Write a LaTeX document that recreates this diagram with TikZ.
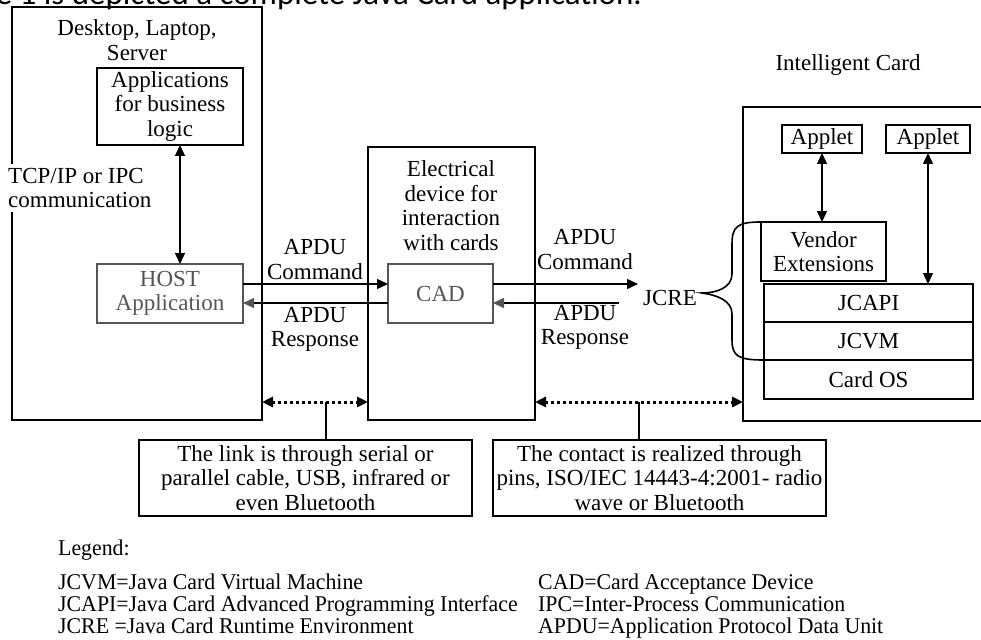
\documentclass[tikz,border=0pt]{standalone}
\usepackage{fontspec}
\setmainfont{Liberation Serif}
\newfontfamily\legendfont{Liberation Serif}[FakeStretch=0.97]
\newfontfamily\pagefont{Carlito}
\usetikzlibrary{arrows.meta,positioning}
\definecolor{hostgray}{HTML}{555555}
\newcommand{\txtsize}{\fontsize{23}{24.5}\selectfont}

\tikzset{
  blk/.style={draw,line width=1.6pt,inner sep=0pt,outer sep=0pt,align=center},
  gblk/.style={blk,draw=hostgray,text=hostgray,line width=1.3pt},
  lbl/.style={align=center,inner sep=0pt},
  legtxt/.style={anchor=base west,inner sep=0pt,font=\legendfont\fontsize{22.5}{22.5}\selectfont},
  tip/.style={line width=1.5pt,-{Triangle[length=11pt,width=10pt]}},
  gtip/.style={line width=1.5pt,-{Triangle[length=11pt,width=10pt,color=hostgray]}},
  dtip/.style={line width=1.5pt,{Triangle[length=11pt,width=10pt]}-{Triangle[length=11pt,width=10pt]}},
  dots/.style={dtip,line width=3pt,dash pattern=on 3pt off 3pt},
}

\begin{document}
\begin{tikzpicture}[x=1pt,y=-1pt,font=\txtsize]
  \useasboundingbox (0,0) rectangle (981,639);
  \clip (0,0) rectangle (981,639);

  % the line of the page above, cut off
  \node[font=\pagefont\fontsize{33}{33}\selectfont,anchor=base east,inner sep=0pt] (pageline) at (642,5) {e 1 is depicted a complete Java Card application.};

  % host side
  \node[blk,minimum width=250pt,minimum height=413pt] (desk) at (137,213.5) {};
  \node[lbl] (desktxt) at (137,40) {Desktop, Laptop,\\Server};
  \node[blk,minimum width=146pt,minimum height=77pt] (apps) at (170,106.5) {Applications\\for business\\logic};
  \node[gblk,minimum width=146pt,minimum height=59pt] (host) at (170,293.5) {HOST\\Application};
  \node[lbl,fill=white,align=left,anchor=west,inner ysep=4pt] (tcp) at (8,188) {TCP/IP or IPC\\communication};
  \draw[dtip] ([xshift=10pt]apps.south) -- ([xshift=10pt]host.north);

  % reader
  \node[blk,minimum width=167pt,minimum height=273pt] (dev) at (451.5,283.5) {};
  \node[lbl] (devtxt) at (451,205.5) {Electrical\\device for\\interaction\\with cards};
  \node[gblk,minimum width=105pt,minimum height=59pt] (cad) at (440.5,293.5) {CAD};

  \draw[tip] ([yshift=9.5pt]host.east) -- ([yshift=9.5pt]cad.west);
  \draw[gtip] ([yshift=-9.5pt]cad.west) -- ([yshift=-9.5pt]host.east);
  \node[lbl] (cmdL) at (315,259.5) {APDU\\Command};
  \node[lbl] (rspL) at (315,329.5) {APDU\\Response};

  \node[lbl] (jcre) at (670,298) {JCRE};
  \coordinate (cmdend) at (638,284);
  \coordinate (rspstart) at (619,303);
  \draw[tip] ([yshift=9.5pt]cad.east) -- (cmdend);
  \draw[gtip] (rspstart) -- ([yshift=-9.5pt]cad.east);
  \node[lbl] (cmdR) at (585,249.5) {APDU\\Command};
  \node[lbl] (rspR) at (585,327.5) {APDU\\Response};

  % card
  \node[blk,minimum width=257pt,minimum height=314pt] (card) at (871.5,264) {};
  \node[lbl] (cardtxt) at (848,65) {Intelligent Card};
  \node[blk,minimum width=80pt,minimum height=28pt] (appletA) at (822,139) {Applet};
  \node[blk,minimum width=84pt,minimum height=28pt] (appletB) at (928,139) {Applet};
  \node[blk,minimum width=125pt,minimum height=59pt] (vendor) at (823.5,251.5) {Vendor\\Extensions};
  \node[blk,minimum width=209pt,minimum height=38pt] (jcapi) at (868.5,303) {JCAPI};
  \node[blk,minimum width=209pt,minimum height=38pt,below=0pt of jcapi] (jcvm) {JCVM};
  \node[blk,minimum width=209pt,minimum height=39pt,below=0pt of jcvm] (cardos) {Card OS};
  \draw[dtip] (appletA.south) -- (appletA.south |- vendor.north);
  \draw[dtip] (appletB.south) -- (appletB.south |- jcapi.north);

  \coordinate (bracetip) at ([xshift=5pt,yshift=5pt]jcre.east);
  \draw[line width=1.6pt] (vendor.north west) .. controls (738,222) and (732,226) .. (732,244)
    -- (732,274) .. controls (732,288) and (716,293) .. (bracetip)
    .. controls (716,295) and (732,300) .. (732,314)
    -- (732,340) .. controls (732,356) and (738,360) .. (jcvm.south west);

  % links
  \coordinate (linkrow) at (0,402);
  \draw[dots] (desk.east |- linkrow) -- (dev.west |- linkrow);
  \draw[dots] (dev.east |- linkrow) -- (card.west |- linkrow);
  \node[blk,minimum width=333pt,minimum height=76pt] (linkbox) at (305.5,478) {The link is through serial or\\parallel cable, USB, infrared or\\even Bluetooth};
  \node[blk,minimum width=333pt,minimum height=76pt] (contactbox) at (659.5,478) {The contact is realized through\\pins, ISO/IEC 14443-4:2001- radio\\wave or Bluetooth};
  \coordinate (linkjoin) at (326,402);
  \coordinate (contactjoin) at (639,402);
  \draw[line width=1.5pt] (linkjoin) -- (linkjoin |- linkbox.north);
  \draw[line width=1.5pt] (contactjoin) -- (contactjoin |- contactbox.north);

  % legend
  \node[legtxt] (legend) at (58,555) {Legend:};
  \node[legtxt] (jcvmdef) at (58,589) {JCVM=Java Card Virtual Machine};
  \node[legtxt] (jcapidef) at (58,611) {JCAPI=Java Card Advanced Programming Interface};
  \node[legtxt] (jcredef) at (58,633) {JCRE =Java Card Runtime Environment};
  \node[legtxt] (caddef) at (538,589) {CAD=Card Acceptance Device};
  \node[legtxt] (ipcdef) at (538,611) {IPC=Inter-Process Communication};
  \node[legtxt] (apdudef) at (538,633) {APDU=Application Protocol Data Unit};
\end{tikzpicture}
\end{document}
